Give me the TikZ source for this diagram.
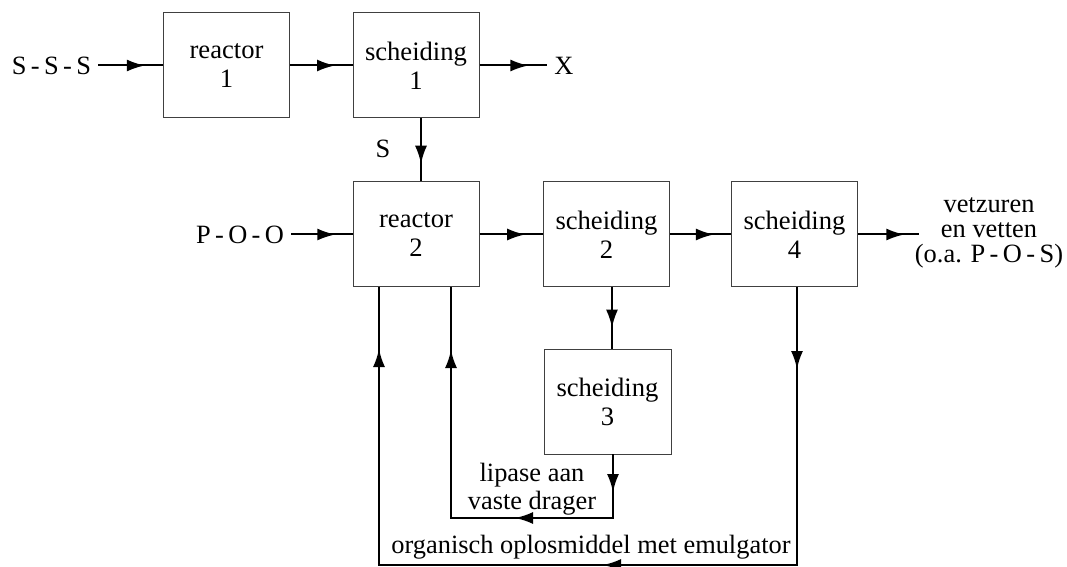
\documentclass[tikz,border=0pt]{standalone}
\usepackage{fontspec}
\setmainfont{Liberation Serif}
\usetikzlibrary{arrows.meta,decorations.markings}
\newcommand{\boxfont}{\fontsize{13.3}{14.5}\selectfont}
\newcommand{\labfont}{\fontsize{13.2}{14}\selectfont}
\newcommand{\flowtip}{\arrow{Latex[length=9pt,width=6pt]}}
\tikzset{
  unit/.style={draw=black!75, line width=0.5pt, minimum width=63pt,
    minimum height=52.5pt, align=center, font=\boxfont,
    execute at begin node={\rule{0pt}{11pt}}},
  stream/.style={line width=1pt, postaction={decorate},
    decoration={markings, mark=at position #1 with {\flowtip}}},
  stream/.default=0.72,
  loopflow/.style n args={3}{line width=1pt, postaction={decorate},
    decoration={markings, mark=at position #1 with {\flowtip},
      mark=at position #2 with {\flowtip}, mark=at position #3 with {\flowtip}}}
}
\begin{document}
\begin{tikzpicture}[x=0.5pt,y=-0.5pt,font=\labfont]
   \useasboundingbox (0,0) rectangle (1067,567);
   % units
   \node[unit] (reactor1) at (226.5,65.5) {reactor\\1};
   \node[unit] (scheiding1) at (416,65.5) {scheiding\\1};
   \node[unit] (reactor2) at (416,234.5) {reactor\\2};
   \node[unit] (scheiding2) at (606.5,234.5) {scheiding\\2};
   \node[unit] (scheiding4) at (794.5,234.5) {scheiding\\4};
   \node[unit,minimum width=63.5pt] (scheiding3) at (607.5,401.5) {scheiding\\3};
   % streams in and out
   \node (sss) at (51.5,65.5) {S\,-\,S\,-\,S};
   \node (xout) at (564,65.5) {X};
   \node (slabel) at (383,149) {S};
   \node (poo) at (240,234.5) {P\,-\,O\,-\,O};
   \node[align=center,font=\fontsize{13.2}{12.5}\selectfont] (fats) at (989,233) {vetzuren\\en vetten\\(o.a. P\,-\,O\,-\,S)};
   \node[align=center] (lipase) at (532,489) {lipase aan\\vaste drager};
   \node (solvent) at (591,547) {organisch oplosmiddel met emulgator};
   \coordinate (fatsin) at (919,234.5);
   \coordinate (s1tap) at (421,118);
   \coordinate (s2tap) at (612,287);
   \coordinate (s3tap) at (613,454);
   \coordinate (s4tap) at (797,287);
   \coordinate (r2lipase) at (451,287);
   \coordinate (r2solvent) at (379,287);
   % connectors
   \draw[stream] (sss) -- (reactor1);
   \draw[stream] (reactor1) -- (scheiding1);
   \draw[stream] (scheiding1) -- (xout);
   \draw[stream] (s1tap) -- (s1tap |- reactor2.north);
   \draw[stream] (poo) -- (reactor2);
   \draw[stream] (reactor2) -- (scheiding2);
   \draw[stream] (scheiding2) -- (scheiding4);
   \draw[stream=0.76] (scheiding4) -- (fatsin);
   \draw[stream=0.66] (s2tap) -- (s2tap |- scheiding3.north);
   \draw[loopflow={19pt}{81pt}{197pt}] (s3tap) -- ++(0,64) -| (r2lipase);
   \draw[loopflow={41pt}{236pt}{456pt}] (s4tap) -- ++(0,278) -| (r2solvent);
\end{tikzpicture}
\end{document}
